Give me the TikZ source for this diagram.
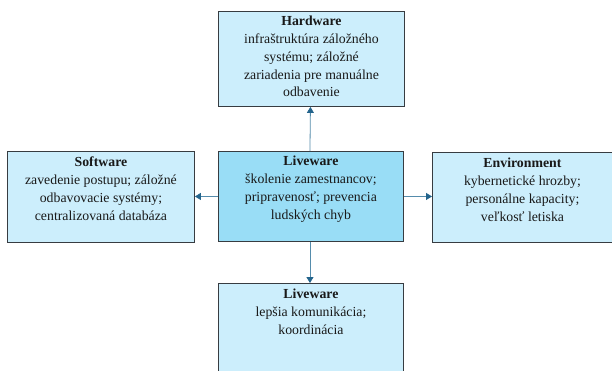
\documentclass[tikz,border=0pt]{standalone}
\usepackage{fontspec}
\setmainfont{Liberation Serif}
\usetikzlibrary{positioning,arrows.meta}
\definecolor{outerfill}{RGB}{204,238,252}
\definecolor{innerfill}{RGB}{153,221,246}
\definecolor{boxline}{RGB}{55,60,65}
\definecolor{arrline}{RGB}{85,140,172}
\definecolor{arrtip}{RGB}{35,100,140}
\tikzset{
  box/.style={draw=boxline, line width=0.9pt, fill=outerfill, rectangle, inner sep=0pt, anchor=north west},
  centerbox/.style={box, fill=innerfill},
  txt/.style={align=center, inner sep=0pt, font=\fontsize{13.8}{17.8}\selectfont, text=black!90},
  conn/.style={draw=arrline, line width=0.8pt, -{Triangle[width=7pt,length=6pt,fill=arrtip,color=arrtip]}}
}
\begin{document}
\begin{tikzpicture}[x=1pt,y=-1pt]
\useasboundingbox (0,0) rectangle (612,370);
\clip (0,0) rectangle (612,370);
\fill[white] (0,0) rectangle (612,370);
% boxes
\node[box, minimum width=186pt, minimum height=95pt] (hw) at (218,11) {};
\node[box, minimum width=187pt, minimum height=91pt] (sw) at (7,151) {};
\node[centerbox, minimum width=185pt, minimum height=90pt] (lw) at (218,151) {};
\node[box, minimum width=200pt, minimum height=90pt] (en) at (432,152) {};
\node[box, minimum width=185pt, minimum height=120pt] (lb) at (218,283) {};
% texts
\node[txt, below=5pt of hw.north] (hwt) {\textbf{Hardware}\\infraštruktúra záložného\\systému; záložné\\zariadenia pre manuálne\\odbavenie};
\node[txt, below=6pt of sw.north] (swt) {\textbf{Software}\\zavedenie postupu; záložné\\odbavovacie systémy;\\centralizovaná databáza};
\node[txt, below=5pt of lw.north] (lwt) {\textbf{Liveware}\\školenie zamestnancov;\\pripravenosť; prevencia\\ludských chyb};
\node[txt, below=6pt of en.north, xshift=-10pt] (ent) {\textbf{Environment}\\kybernetické hrozby;\\personálne kapacity;\\veľkosť letiska};
\node[txt, below=6pt of lb.north] (lbt) {\textbf{Liveware}\\lepšia komunikácia;\\koordinácia};
% connectors
\draw[conn] ([xshift=-1pt]lw.north) -- ([xshift=-1pt]hw.north |- hw.south);
\draw[conn] (lw.west) -- (sw.east |- lw.west);
\draw[conn] (lw.east) -- (en.west |- lw.east);
\draw[conn] ([xshift=-1pt]lw.south) -- ([xshift=-1pt]lb.north);
\end{tikzpicture}
\end{document}
